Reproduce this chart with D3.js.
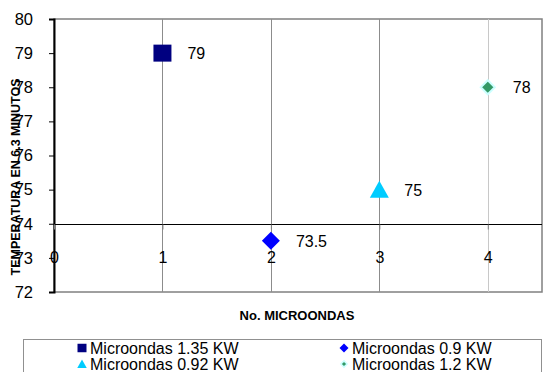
<!DOCTYPE html>
<html>
<head>
<meta charset="utf-8">
<script src="https://cdn.jsdelivr.net/npm/d3@7"></script>
<style>
  html, body { margin: 0; padding: 0; background: #fff; }
  svg { display: block; font-family: Arial, "Liberation Sans", sans-serif; }
</style>
</head>
<body>
<svg id="chart" width="546" height="372"></svg>
<script>
// Series: one point per microwave power setting
const seriesNames = ["Microondas 1.35 KW", "Microondas 0.9 KW", "Microondas 0.92 KW", "Microondas 1.2 KW"];
const xValues = [1, 2, 3, 4];
const yValues = [79, 73.5, 75, 78];
const seriesColors = ["#000080", "#0000FF", "#00CCFF", "#339966"];
const seriesShapes = ["square", "diamond", "triangle", "smallDiamond"];
const xTicks = [0, 1, 2, 3, 4];
const yTicks = [72, 73, 74, 75, 76, 77, 78, 79, 80];

const svg = d3.select("#chart");
const plot = { left: 54, top: 19, right: 542, bottom: 292 };

const x = d3.scaleLinear().domain([0, 4.5]).range([plot.left, plot.right]);
const y = d3.scaleLinear().domain([72, 80]).range([plot.bottom, plot.top]);

// plot frame (top, right, bottom in grey)
svg.append("rect")
  .attr("x", plot.left).attr("y", plot.top)
  .attr("width", plot.right - plot.left).attr("height", plot.bottom - plot.top)
  .attr("fill", "#fff").attr("stroke", "#808080").attr("stroke-width", 1.5);

// vertical gridlines
svg.append("g").selectAll("line").data(xTicks.filter(d => d > 0)).join("line")
  .attr("x1", d => Math.round(x(d)) + 0.5).attr("x2", d => Math.round(x(d)) + 0.5)
  .attr("y1", plot.top).attr("y2", plot.bottom)
  .attr("stroke", d => d === 4 ? "#c8c8c8" : "#8c8c8c").attr("stroke-width", 1);

// y axis on the left
const yAxis = d3.axisLeft(y).tickValues(yTicks).tickSize(5).tickPadding(16).tickFormat(d3.format("d"));
const gy = svg.append("g").attr("transform", `translate(${plot.left},0)`).call(yAxis);
gy.select(".domain").attr("stroke", "#000").attr("stroke-width", 2);
gy.selectAll(".tick line").attr("stroke", "#000");
gy.selectAll(".tick text").attr("font-size", 16.5).attr("fill", "#000")
  .attr("font-family", "Arial, 'Liberation Sans', sans-serif");

// x axis crosses at 74
const xAxis = d3.axisBottom(x).tickValues(xTicks).tickSize(5).tickPadding(22).tickFormat(d3.format("d"));
const gx = svg.append("g").attr("transform", `translate(0,${Math.round(y(74)) + 0.5})`).call(xAxis);
gx.select(".domain").attr("stroke", "#000").attr("stroke-width", 1.2)
  .attr("d", `M${plot.left},0H${plot.right}`);
gx.selectAll(".tick line").attr("stroke", "#808080");
gx.selectAll(".tick text").attr("font-size", 16).attr("fill", "#000")
  .attr("font-family", "Arial, 'Liberation Sans', sans-serif");

// marker symbols
function markerPath(shape, scale) {
  const s = scale || 1;
  if (shape === "square") return `M${-9*s},${-8.5*s}h${18*s}v${17*s}h${-18*s}Z`;
  if (shape === "diamond") return `M0,${-9*s}L${9*s},0L0,${9*s}L${-9*s},0Z`;
  if (shape === "triangle") return `M0,${-9*s}L${9.5*s},${8*s}L${-9.5*s},${8*s}Z`;
  return `M0,${-7*s}L${7*s},0L0,${7*s}L${-7*s},0Z`;
}

const pts = xValues.map((d, i) => ({ x: d, y: yValues[i], i }));

svg.append("g").selectAll("path").data(pts).join("path")
  .attr("transform", d => `translate(${x(d.x)},${y(d.y)})`)
  .attr("d", d => markerPath(seriesShapes[d.i]))
  .attr("fill", d => seriesColors[d.i])
  .attr("stroke", d => seriesShapes[d.i] === "smallDiamond" ? "#CCFFFF" : "none")
  .attr("stroke-width", 2);

// value labels
svg.append("g").selectAll("text").data(pts).join("text")
  .attr("x", d => x(d.x) + 25)
  .attr("y", d => y(d.y) + 6)
  .attr("font-size", 16).attr("fill", "#000")
  .text(d => d3.format("")(d.y));

// axis titles
svg.append("text")
  .attr("transform", `translate(20,177) rotate(-90)`)
  .attr("text-anchor", "middle")
  .attr("font-size", 12.5).attr("font-weight", "bold")
  .text("TEMPERATURA EN 6.3 MINUTOS");

svg.append("text")
  .attr("x", 297).attr("y", 320)
  .attr("text-anchor", "middle")
  .attr("font-size", 13).attr("font-weight", "bold")
  .text("No. MICROONDAS");

// legend
const legend = svg.append("g");
legend.append("rect")
  .attr("x", 23.5).attr("y", 339.5).attr("width", 518).attr("height", 40)
  .attr("fill", "#fff").attr("stroke", "#909090");

const legendPos = [[82, 348], [344, 348], [82, 364], [344, 364]];
const items = legend.selectAll("g.item").data(seriesNames).join("g")
  .attr("transform", (d, i) => `translate(${legendPos[i][0]},${legendPos[i][1]})`);
items.append("path")
  .attr("d", (d, i) => markerPath(seriesShapes[i], seriesShapes[i] === "smallDiamond" ? 0.45 : 0.5))
  .attr("fill", (d, i) => seriesColors[i])
  .attr("stroke", (d, i) => seriesShapes[i] === "smallDiamond" ? "#CCFFFF" : "none")
  .attr("stroke-width", 1.5);
items.append("text")
  .attr("x", 8).attr("y", 5.5)
  .attr("font-size", 16).attr("fill", "#000")
  .text(d => d);
</script>
</body>
</html>
